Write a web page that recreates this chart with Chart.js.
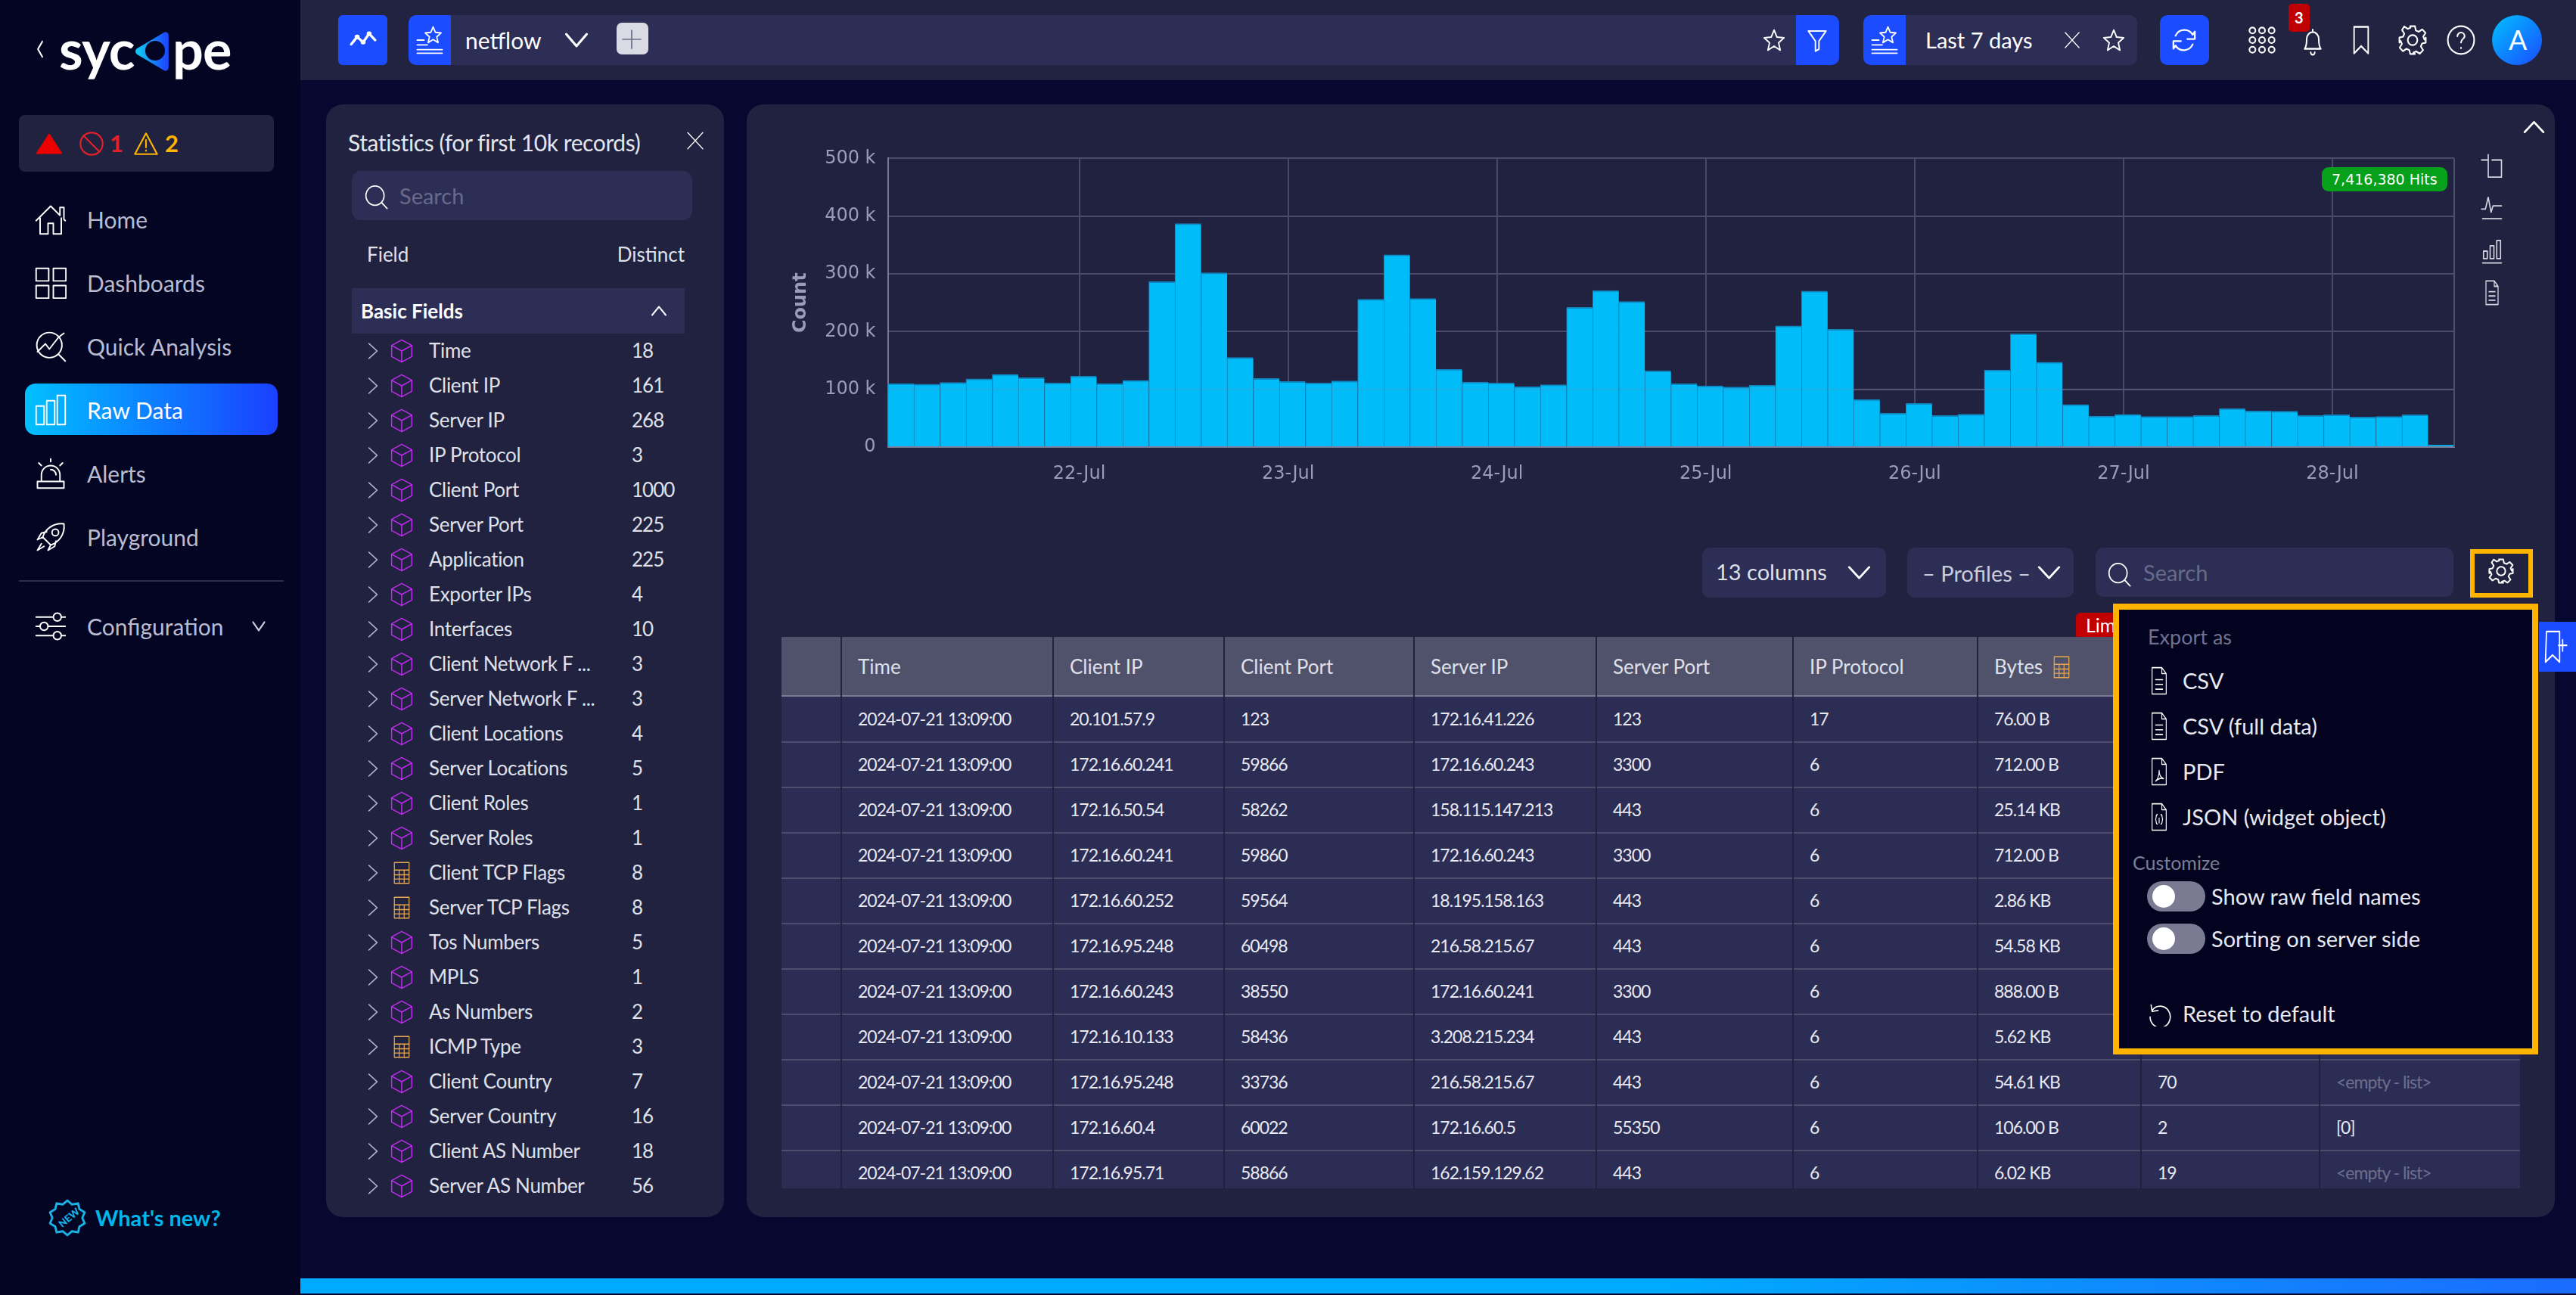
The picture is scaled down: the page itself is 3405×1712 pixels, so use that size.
<!DOCTYPE html>
<html>
<head>
<meta charset="utf-8">
<title>Raw Data</title>
<script src="https://cdn.jsdelivr.net/npm/chart.js@4"></script>
<style>
  html,body{margin:0;padding:0;background:#060830;overflow:hidden;}
  #app{position:relative;width:3405px;height:1712px;overflow:hidden;font-family:Lato,sans-serif;color:#dfe0ea;}
  #app div,#app svg{position:absolute;}
  .t{white-space:nowrap;transform:translateY(-50%);line-height:1.2;}
  canvas{position:absolute;left:1040px;top:179px;}
</style>
</head>
<body>
<div id="app"></div>
<script>
// histogram, one bar every 3 hours
const binHours = 3;
const hitCounts = [110000,109000,112000,118000,126000,120000,111000,122600,110000,115600,
  286600,387000,302000,155000,118700,113400,110800,114700,256000,333000,
  257400,135000,112600,111000,104700,108000,242000,271000,252000,132000,
  109500,106000,104000,107000,210000,270000,204000,82500,58500,75500,
  54500,57000,133500,196000,147000,73700,53700,56700,52800,52800,
  54500,66800,62400,62000,54500,55800,52000,53000,55800,3500];
const dayTickHours = [22,46,70,94,118,142,166];
const dayTickLabels = ['22-Jul','23-Jul','24-Jul','25-Jul','26-Jul','27-Jul','28-Jul'];
const yTicks = [0,100000,200000,300000,400000,500000];

// sidebar
const navLabels = ['Home','Dashboards','Quick Analysis','Raw Data','Alerts','Playground'];

// statistics panel
const fieldNames = ['Time','Client IP','Server IP','IP Protocol','Client Port','Server Port','Application','Exporter IPs','Interfaces','Client Network F ...','Server Network F ...','Client Locations','Server Locations','Client Roles','Server Roles','Client TCP Flags','Server TCP Flags','Tos Numbers','MPLS','As Numbers','ICMP Type','Client Country','Server Country','Client AS Number','Server AS Number'];
const fieldDistinct = [18,161,268,3,1000,225,225,4,10,3,3,4,5,1,1,8,8,5,1,2,3,7,16,18,56];
const calcFields = ['Client TCP Flags','Server TCP Flags','ICMP Type'];

// table
const tableHeaders = ['','Time','Client IP','Client Port','Server IP','Server Port','IP Protocol','Bytes','',''];
const rowTime = '2024-07-21 13:09:00';
const clientIps = ['20.101.57.9','172.16.60.241','172.16.50.54','172.16.60.241','172.16.60.252','172.16.95.248','172.16.60.243','172.16.10.133','172.16.95.248','172.16.60.4','172.16.95.71'];
const clientPorts = ['123','59866','58262','59860','59564','60498','38550','58436','33736','60022','58866'];
const serverIps = ['172.16.41.226','172.16.60.243','158.115.147.213','172.16.60.243','18.195.158.163','216.58.215.67','172.16.60.241','3.208.215.234','216.58.215.67','172.16.60.5','162.159.129.62'];
const serverPorts = ['123','3300','443','3300','443','443','3300','443','443','55350','443'];
const ipProtocols = ['17','6','6','6','6','6','6','6','6','6','6'];
const byteSizes = ['76.00 B','712.00 B','25.14 KB','712.00 B','2.86 KB','54.58 KB','888.00 B','5.62 KB','54.61 KB','106.00 B','6.02 KB'];
const packetCounts = ['','','','','','','','','70','2','19'];
const listValues = ['','','','','','','','','<empty - list>','[0]','<empty - list>'];

const app = document.getElementById('app');
const BLUE = '#1b4cff', BAR = '#2d2e55', PANEL = '#20223f', AMBER = '#ffb400';

function box(x,y,w,h,bg,css){
  const d=document.createElement('div');
  d.style.cssText=`left:${x}px;top:${y}px;width:${w}px;height:${h}px;background:${bg};${css||''}`;
  app.appendChild(d); return d;
}
function T(x,cy,s,o){
  o=o||{};
  const d=document.createElement('div');
  d.className='t';
  d.textContent=s;
  d.style.cssText=`${o.right?'right:'+(3405-x):'left:'+x}px;top:${cy}px;font-size:${o.size||27}px;color:${o.color||'#dfe0ea'};font-weight:${o.weight||400};${o.font?'font-family:'+o.font+';':''}${o.css||''}`;
  app.appendChild(d); return d;
}
// icon centred on cx,cy, drawn in a 24x24 box
function I(cx,cy,w,h,inner,color,sw){
  const ns='http://www.w3.org/2000/svg';
  const s=document.createElementNS(ns,'svg');
  s.setAttribute('viewBox','0 0 24 24');
  s.setAttribute('preserveAspectRatio','none');
  s.style.cssText=`left:${cx-w/2}px;top:${cy-h/2}px;width:${w}px;height:${h}px;fill:none;stroke:${color||'#fff'};stroke-width:${sw||1.2};stroke-linecap:round;stroke-linejoin:round;`;
  s.innerHTML=inner;
  app.appendChild(s); return s;
}
const ICON = {
  chevDown:'<path d="M3 7l9 10 9-10"/>',
  chevUp:'<path d="M3 17l9-10 9 10"/>',
  chevRight:'<path d="M7 2l10 10L7 22"/>',
  close:'<path d="M2 2l20 20M22 2L2 22"/>',
  search:'<circle cx="11" cy="11" r="9"/><path d="M18 18l5 5"/>',
  star:'<path d="M12 2l3 7 7.500 .7-5.700 5 1.700 7.300L12 18l-6.500 4 1.700-7.300-5.700-5L9 9z"/>',
  starList:'<path d="M15 1l2 4.500 5 .5-3.800 3.300 1.200 4.800-4.400-2.600-4.400 2.600 1.200-4.800L8 6l5-.5z"/><path d="M1 12h6M1 16h9M1 20h22M1 23h22"/>',
  filter:'<path d="M2 3h20l-8 10v8l-4 2V13z"/>',
  cube:'<path d="M12 1l10 5.500v11L12 23 2 17.500v-11zM2 6.500l10 5.500 10-5.500M12 12v11"/>',
  calc:'<rect x="3" y="1" width="18" height="22"/><path d="M3 9h18M3 14h18M3 18.500h18M9 9v14M15 9v14"/>',
  home:'<path d="M1 13L12 2l7 7V3h3v9l1 1M4 11v12h6v-8h4v8h6V11"/>',
  dash:'<rect x="1" y="1" width="9.500" height="9.500"/><rect x="14" y="1" width="9.500" height="9.500"/><rect x="1" y="14" width="9.500" height="9.500"/><rect x="14" y="14" width="9.500" height="9.500"/>',
  quick:'<circle cx="11" cy="11" r="9.500"/><path d="M18 18l5 5M2 16l6-6 3 4 7-9 4-3"/>',
  bars:'<rect x="1" y="9" width="6" height="14"/><rect x="9" y="5" width="6" height="18"/><rect x="17" y="1" width="6" height="22"/>',
  alert:'<path d="M5 18v-5a7 7 0 0114 0v5M2 18h20v5H2zM12 1v2M3 4l2 2M21 4l-2 2M12 9a4 4 0 014 4"/>',
  rocket:'<path d="M9 15l-3-3C8 6 14 1 22 2c1 8-4 14-10 16zM6 12l-4 2 3-5 4-1M12 18l-2 4 5-3 1-4M5 17l-3 5 5-3"/><circle cx="15.500" cy="8.500" r="2.500"/>',
  sliders:'<path d="M1 5h13M20 5h3M1 12h3M10 12h13M1 19h13M20 19h3"/><circle cx="17" cy="5" r="3"/><circle cx="7" cy="12" r="3"/><circle cx="17" cy="19" r="3"/>',
  gear:'<circle cx="12" cy="12" r="4"/><path d="M10 1h4l.7 3.400 2.400 1 2.900-1.900 2.800 2.800-1.900 2.900 1 2.400L23 10v4l-3.100.7-1 2.400 1.900 2.900-2.800 2.800-2.900-1.900-2.400 1L14 23h-4l-.7-3.100-2.400-1-2.900 1.900-2.800-2.800 1.900-2.900-1-2.400L1 14v-4l3.100-.7 1-2.400-1.900-2.900L5 1.200l2.900 1.900 2.400-1z"/>',
  bell:'<path d="M4 18c2-2 2-5 2-8a6 6 0 0112 0c0 3 0 6 2 8zM10 21a2 2 0 004 0M12 2v2"/>',
  bookmark:'<path d="M4 1h16v22l-8-6-8 6z"/>',
  help:'<circle cx="12" cy="12" r="11"/><path d="M9 9a3 3 0 116 0c0 2-3 2-3 5M12 18v.5"/>',
  apps:'<circle cx="4" cy="4" r="2.500"/><circle cx="12" cy="4" r="2.500"/><circle cx="20" cy="4" r="2.500"/><circle cx="4" cy="12" r="2.500"/><circle cx="12" cy="12" r="2.500"/><circle cx="20" cy="12" r="2.500"/><circle cx="4" cy="20" r="2.500"/><circle cx="12" cy="20" r="2.500"/><circle cx="20" cy="20" r="2.500"/>',
  refresh:'<path d="M4 8a9 9 0 0116-1l2-3v7h-7M20 16a9 9 0 01-16 1l-2 3v-7h7"/>',
  pulse:'<path d="M2 16l5-7 5 5 5-8 5 6"/><circle cx="7" cy="9" r="1"/><circle cx="12" cy="14" r="1"/><circle cx="17" cy="6" r="1"/>',
  doc:'<path d="M4 1h11l5 5v17H4zM15 1v5h5M8 11h8M8 15h8M8 19h8"/>',
  pdf:'<path d="M4 1h11l5 5v17H4zM15 1v5h5M8 20c3-2 4-6 4-9 0 4 2 6 5 7-3-1-6 0-9 2z"/>',
  json:'<path d="M4 1h11l5 5v17H4zM15 1v5h5M10 10c-2 0-1 3-2 4 1 1 0 4 2 4M14 10c2 0 1 3 2 4-1 1 0 4-2 4M12 13v4"/>',
  crop:'<path d="M1 6h7V1M8 6v16h14V6H12"/>',
  lineChart:'<path d="M1 13h4l3-11 3 14 2-6h9M2 22h20"/>',
  barChart:'<rect x="3" y="12" width="4" height="7"/><rect x="10" y="7" width="4" height="12"/><rect x="17" y="2" width="4" height="17"/><path d="M2 23h20"/>',
  reset:'<path d="M4 4l1 6 6-1M5 9a10 10 0 11-2 6"/>',
  addMark:'<path d="M3 1h13v22l-7-5-7 5zM15 11h8M19 7v8"/>'
};

/* ---------- page frame ---------- */
box(0,0,397,1712,'#030523');
box(397,0,3008,106,'#212340');
box(397,1690,3008,20,'linear-gradient(90deg,#00aaff,#00aaff 60%,#1b6cff)');
box(431,138,526,1471,PANEL,'border-radius:22px;');
box(987,138,2390,1471,PANEL,'border-radius:22px;');

/* ---------- top bar ---------- */
box(447,20,65,66,BLUE,'border-radius:6px;');
I(480,53,38,34,ICON.pulse,'#fff',2.2);
box(540,20,1891,66,BAR,'border-radius:10px;');
box(540,20,56,66,BLUE,'border-radius:10px 0 0 10px;');
I(568,53,36,38,ICON.starList,'#fff',1.2);
T(615,53,'netflow',{size:30,color:'#fff'});
I(762,53,36,38,ICON.chevDown,'#fff',2);
box(815,30,42,42,'#d9dae3','border-radius:7px;');
I(835,52,26,26,'<path d="M12 1v22M1 12h22"/>','#6e7088',1.6);
I(2345,53,30,32,ICON.star,'#fff',1.5);
box(2374,20,57,66,BLUE,'border-radius:0 10px 10px 0;');
I(2402,53,28,32,ICON.filter,'#fff',1.6);
box(2463,20,362,66,BAR,'border-radius:10px;');
box(2463,20,56,66,BLUE,'border-radius:10px 0 0 10px;');
I(2491,53,36,38,ICON.starList,'#fff',1.2);
T(2545,53,'Last 7 days',{size:29,color:'#fff'});
I(2739,53,22,24,ICON.close,'#fff',1.4);
I(2794,53,30,32,ICON.star,'#fff',1.5);
box(2855,20,65,66,BLUE,'border-radius:10px;');
I(2887,53,34,34,ICON.refresh,'#fff',1.6);
I(2990,53,38,38,ICON.apps,'#fff',1.3);
I(3057,55,32,38,ICON.bell,'#fff',1.5);
box(3025,5,28,37,'#c00000','border-radius:5px;');
T(3033,23,'3',{size:20,color:'#fff',weight:700});
I(3121,53,28,38,ICON.bookmark,'#fff',1.6);
I(3189,53,38,40,ICON.gear,'#fff',1.3);
I(3253,53,38,40,ICON.help,'#fff',1.3);
box(3294,20,66,66,'linear-gradient(135deg,#00c0ff,#1b4cff)','border-radius:50%;');
T(3316,53,'A',{size:36,color:'#fff'});

/* ---------- sidebar ---------- */
I(53,65,14,24,'<path d="M17 2L7 12l10 10"/>','#fff',3);
T(78,64,'syc',{size:72,color:'#fff',weight:700,css:'letter-spacing:-1px;'});
// logo mark: triangle with a hole, cyan to blue
I(202,68,50,56,'<defs><linearGradient id="lg" x1="0" x2="1" y1="0" y2="0"><stop offset="0" stop-color="#10c4f5"/><stop offset="1" stop-color="#1b4cff"/></linearGradient></defs><path d="M20 3v18L3 12z" fill="url(#lg)"/>','url(#lg)',4);
const logoDot=I(205,67,26,26,'<circle cx="12" cy="12" r="12"/>','none',0);
logoDot.querySelector('circle').style.fill='#030523';
T(228,64,'pe',{size:72,color:'#fff',weight:700,css:'letter-spacing:-1px;'});

box(25,152,337,75,PANEL,'border-radius:8px;');
const redTri=I(65,190,36,28,'<path d="M12 1l11 22H1z"/>','#ee0000',1);
redTri.querySelector('path').style.fill='#ee0000';
I(121,190,32,32,'<circle cx="12" cy="12" r="11"/><path d="M4 4l16 16"/>','#e2202a',1.6);
T(145,190,'1',{size:31,color:'#e2202a',weight:700});
I(193,190,32,30,'<path d="M12 1l11 22H1zM12 8v8M12 19v.5"/>',AMBER,1.6);
T(218,190,'2',{size:31,color:AMBER,weight:700});

const navCenters=[290,374,458,542,626,710];
const navIcons=['home','dash','quick','bars','alert','rocket'];
box(33,507,334,68,'linear-gradient(90deg,#00c0ff,#1b40ff)','border-radius:14px;');
navLabels.forEach((lab,i)=>{
  I(67,navCenters[i],42,42,ICON[navIcons[i]],'#fff',1.1);
  T(115,navCenters[i],lab,{size:30,color:lab==='Raw Data'?'#fff':'#b9bcd0'});
});
box(25,767,350,2,'#2c2d4e');
I(67,828,42,42,ICON.sliders,'#fff',1.1);
T(115,828,'Configuration',{size:30,color:'#b9bcd0'});
I(342,828,20,26,ICON.chevDown,'#c9cbdb',2.4);
I(89,1610,50,50,'<path d="M12 1l3 2.500 3.800-.7.900 3.700 3.300 2L21.500 12l1.500 3.500-3.300 2-.9 3.700-3.800-.7L12 23l-3-2.500-3.800.7-.9-3.700-3.300-2L2.500 12 1 8.500l3.300-2 .9-3.700 3.800.7z"/>','#19b2e6',1.4);
T(76,1610,'NEW',{size:13,color:'#19b2e6',weight:900,css:'transform:translateY(-50%) rotate(-40deg);'});
T(126,1610,"What's new?",{size:29,color:'#00b7ea',weight:700});

/* ---------- statistics panel ---------- */
T(460,188,'Statistics (for first 10k records)',{size:30,color:'#e4e5ee',css:'letter-spacing:-.4px;'});
I(919,186,24,26,ICON.close,'#fff',1.3);
box(465,226,450,65,BAR,'border-radius:12px;');
I(497,260,32,34,ICON.search,'#fff',1.3);
T(528,259,'Search',{size:29,color:'#686a8a'});
T(485,337,'Field',{size:26});
T(905,337,'Distinct',{size:26,right:true});
box(465,381,440,60,BAR);
T(477,412,'Basic Fields',{size:26,weight:700,color:'#fff'});
I(871,411,24,26,ICON.chevUp,'#fff',2);
fieldNames.forEach((name,i)=>{
  const cy=463.5+i*46;
  I(493,cy,26,24,ICON.chevRight,'#b4b6c8',1.6);
  if(calcFields.includes(name)) I(531,cy,26,30,ICON.calc,'#e8a850',1.1);
  else I(531,cy,32,32,ICON.cube,'#c02cf0',1.1);
  T(567,cy,name,{size:26,css:'letter-spacing:-.3px;'});
  T(835,cy,String(fieldDistinct[i]),{size:26,css:'letter-spacing:-1px;'});
});

/* ---------- table ---------- */
const colX=[1033,1112,1392,1618,1869,2110,2370,2614,2830,3066,3331];
const rowData=[null,null,clientIps,clientPorts,serverIps,serverPorts,ipProtocols,byteSizes,packetCounts,listValues];
box(1033,842,2298,79,'#50516a');
box(1033,919,2298,3,'#7a7b93');
box(1033,921,2298,650,'#2c2d55');
for(let r=1;r<=10;r++) box(1033,921+r*60-1,2298,2,'#4c4d6a');
for(let c=1;c<10;c++) box(colX[c]-1,842,2,729,PANEL);
tableHeaders.forEach((h,c)=>{ if(h) T(colX[c]+22,882,h,{size:26}); });
I(2725,882,26,30,ICON.calc,'#e8a850',1.1);
const tableCss='letter-spacing:-1px;';
for(let r=0;r<11;r++){
  const cy=951+r*60;
  T(colX[1]+22,cy,rowTime,{size:23,color:'#e8e9f1',css:tableCss});
  for(let c=2;c<10;c++){
    const v=rowData[c][r];
    if(v) T(colX[c]+22,cy,v,{size:23,color:v.includes('empty')?'#6d6f8c':'#e8e9f1',css:tableCss});
  }
}
box(1033,1571,2298,38,PANEL,'border-radius:0 0 22px 22px;');

/* ---------- table controls ---------- */
box(2250,724,243,66,BAR,'border-radius:10px;');
T(2268,756,'13 columns',{size:29});
I(2457,757,35,34,ICON.chevDown,'#fff',2);
box(2521,724,220,66,BAR,'border-radius:10px;');
T(2541,758,'– Profiles –',{size:29,color:'#c9cbdb'});
I(2708,757,35,34,ICON.chevDown,'#fff',2);
box(2770,724,473,65,BAR,'border-radius:10px;');
I(2801,759,32,34,ICON.search,'#fff',1.3);
T(2833,757,'Search',{size:29,color:'#686a8a'});
box(3265,726,83,64,'transparent',`border:6px solid ${AMBER};box-sizing:border-box;`);
I(3306,755,34,34,ICON.gear,'#fff',1.4);

/* ---------- export popup ---------- */
box(2744,810,60,32,'#c00000','border-radius:6px 6px 0 0;');
T(2757,826,'Limit',{size:25,color:'#fff'});
box(2793,798,562,596,'#03031f',`border:8px solid ${AMBER};box-sizing:border-box;`);
T(2839,842,'Export as',{size:27,color:'#6f7090'});
[['CSV',900,'doc'],['CSV (full data)',960,'doc'],['PDF',1020,'pdf'],['JSON (widget object)',1080,'json']].forEach(m=>{
  I(2854,m[1],28,38,ICON[m[2]],'#fff',1);
  T(2885,m[1],m[0],{size:29,color:'#e8e9f1'});
});
T(2819,1140,'Customize',{size:25,color:'#7c7e98'});
[[1185,'Show raw field names'],[1241,'Sorting on server side']].forEach(m=>{
  box(2838,m[0]-20,77,40,'#7a7b93','border-radius:20px;');
  box(2845,m[0]-15,30,30,'#fff','border-radius:50%;');
  T(2923,m[0],m[1],{size:29,color:'#e8e9f1'});
});
I(2854,1340,32,34,ICON.reset,'#fff',1.2);
T(2885,1340,'Reset to default',{size:29,color:'#e8e9f1'});
box(3356,822,49,66,BLUE);
I(3378,855,32,44,ICON.addMark,'#fff',1.3);

/* ---------- chart side controls ---------- */
I(3349,168,33,32,ICON.chevUp,'#fff',2);
[[220,'crop',30,34],[275,'lineChart',30,34],[332,'barChart',30,34],[387,'doc',24,34]].forEach(m=>{
  I(3294,m[0],m[2],m[3],ICON[m[1]],'#d5d6e2',1.3);
});

/* ---------- histogram ---------- */
const cv=document.createElement('canvas');
cv.width=2220; cv.height=481;
app.appendChild(cv);
box(3069,221,166,32,'#06a01a','border-radius:9px;');
T(3082,237,'7,416,380 Hits',{size:19,color:'#fff',font:'"DejaVu Sans"'});

const labelColor='#9a9db8';
const frame={
  id:'frame',
  afterDraw(chart){
    const {ctx,chartArea,scales}=chart;
    ctx.save();
    ctx.strokeStyle='#4f5070'; ctx.lineWidth=2;
    ctx.beginPath(); ctx.moveTo(chartArea.right,chartArea.top); ctx.lineTo(chartArea.right,chartArea.bottom); ctx.stroke();
    // the 100 k rule shows faintly through the bars
    const y=scales.y.getPixelForValue(yTicks[1]);
    ctx.strokeStyle='rgba(120,130,170,.2)';
    ctx.beginPath(); ctx.moveTo(chartArea.left,y); ctx.lineTo(chartArea.right,y); ctx.stroke();
    ctx.restore();
  }
};

new Chart(cv.getContext('2d'),{
  type:'bar',
  data:{datasets:[{
    label:'Count',
    data:hitCounts.map((v,i)=>({x:(i+0.5)*binHours,y:v})),
    backgroundColor:'#00bcf9',
    borderColor:'#0f86bd',
    borderWidth:{top:2,left:1,right:0,bottom:0},
    borderSkipped:false,
    barPercentage:1,
    categoryPercentage:1
  }]},
  options:{
    responsive:false,
    animation:false,
    layout:{padding:{top:17,right:16,left:0,bottom:0}},
    plugins:{legend:{display:false},tooltip:{enabled:false}},
    scales:{
      x:{
        type:'linear',
        offset:false,
        min:0,
        max:hitCounts.length*binHours,
        afterBuildTicks(s){ s.ticks=dayTickHours.map(v=>({value:v})); },
        afterFit(s){ s.height=69; },
        ticks:{
          autoSkip:false,maxRotation:0,padding:21,
          color:labelColor,font:{family:'"DejaVu Sans"',size:24},
          callback:v=>dayTickLabels[dayTickHours.indexOf(v)]
        },
        grid:{color:'#47486a',lineWidth:2,drawTicks:false,offset:false},
        border:{color:'#7b7e9a',width:2}
      },
      y:{
        min:0,
        max:yTicks[yTicks.length-1],
        afterBuildTicks(s){ s.ticks=yTicks.map(v=>({value:v})); },
        afterFit(s){ s.width=133.5; },
        title:{display:true,text:'Count',color:labelColor,font:{family:'"DejaVu Sans"',size:24,weight:'bold'},padding:{top:4,bottom:0}},
        ticks:{
          padding:16,color:labelColor,font:{family:'"DejaVu Sans"',size:24},
          callback:v=>v===0?'0':(v/1000)+' k'
        },
        grid:{color:'#4a4b68',lineWidth:2,drawTicks:false},
        border:{color:'#777a95',width:2}
      }
    }
  },
  plugins:[frame]
});
</script>
</body>
</html>
